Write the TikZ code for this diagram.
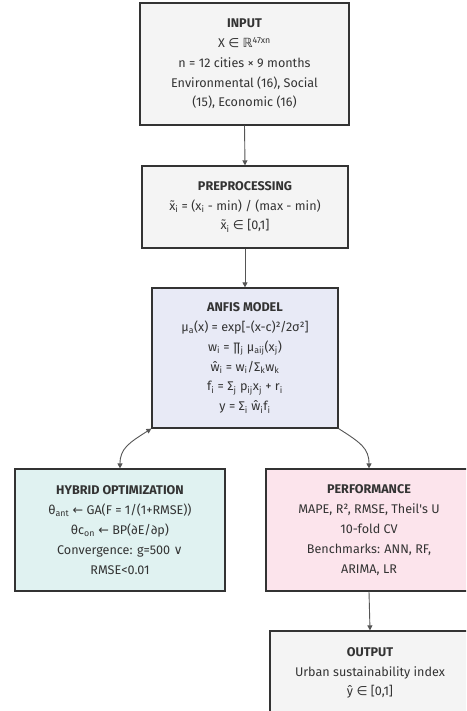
\documentclass[tikz,border=0pt]{standalone}
\usepackage{fontspec}
\setmainfont{Fira Sans}
\newfontfamily\sym{DejaVu Sans}
\usetikzlibrary{arrows.meta}
\definecolor{bordc}{HTML}{333333}
\definecolor{txtc}{HTML}{333333}
\definecolor{linec}{HTML}{555555}
\definecolor{grayf}{HTML}{F4F4F4}
\definecolor{anfisf}{HTML}{E8EAF6}
\definecolor{hybf}{HTML}{E0F2F1}
\definecolor{perff}{HTML}{FCE4EC}
\newcommand{\sbs}[1]{\textsubscript{#1}}
\begin{document}
\begin{tikzpicture}[x=1pt,y=-1pt,
  boxst/.style={draw=bordc, line width=1.2pt, rectangle, align=center, text=txtc,
    inner sep=0pt, font=\fontsize{12.6}{19.8}\selectfont},
  conn/.style={draw=linec, line width=0.9pt, -{Triangle[length=5pt,width=5pt]}},
  conn2/.style={draw=linec, line width=0.9pt, {Triangle[length=5pt,width=5pt]}-{Triangle[length=5pt,width=5pt]}}
]
\useasboundingbox (0,0) rectangle (466,711);
\clip (0,0) rectangle (466,711);
\fill[white] (0,0) rectangle (466,711);

\node[boxst, fill=grayf, minimum width=209pt, minimum height=122pt] (input) at (244.5,64)
 {\textbf{INPUT}\\
  X {\sym ∈} {\sym ℝ}\textsuperscript{47xn}\\
  n = 12 cities × 9 months\\
  Environmental (16), Social\\
  (15), Economic (16)};

\node[boxst, fill=grayf, minimum width=206pt, minimum height=82pt] (prep) at (245,207)
 {\textbf{PREPROCESSING}\\
  x̃\sbs{i} = (x\sbs{i} - min) / (max - min)\\
  x̃\sbs{i} {\sym ∈} [0,1]};

\node[boxst, fill=anfisf, minimum width=186pt, minimum height=140pt] (anfis) at (245,358)
 {\textbf{ANFIS MODEL}\\
  μ\sbs{a}(x) = exp[-(x-c)²/2σ²]\\
  w\sbs{i} = ∏\sbs{j} μ\sbs{aij}(x\sbs{j})\\
  ŵ\sbs{i} = w\sbs{i}/Σ\sbs{k}w\sbs{k}\\
  f\sbs{i} = Σ\sbs{j} p\sbs{ij}x\sbs{j} + r\sbs{i}\\
  y = Σ\sbs{i} ŵ\sbs{i}f\sbs{i}};

\node[boxst, fill=hybf, minimum width=210pt, minimum height=122pt] (hyb) at (120,530)
 {\textbf{HYBRID OPTIMIZATION}\\
  θ\sbs{ant} {\sym ←} GA(F = 1/(1+RMSE))\\
  θc\sbs{on} {\sym ←} BP(∂E/∂p)\\
  Convergence: g=500 {\sym ∨}\\
  RMSE<0.01};

\node[boxst, fill=perff, minimum width=206pt, minimum height=122pt] (perf) at (369,530)
 {\textbf{PERFORMANCE}\\
  MAPE, R², RMSE, Theil\textquotesingle s U\\
  10-fold CV\\
  Benchmarks: ANN, RF,\\
  ARIMA, LR};

\node[boxst, fill=grayf, minimum width=200pt, minimum height=84pt] (out) at (370,673)
 {\textbf{OUTPUT}\\
  Urban sustainability index\\
  ŷ {\sym ∈} [0,1]};

\draw[conn] (input.south) -- (prep.north);
\draw[conn] (prep.south) -- (anfis.north);
\draw[conn2] (anfis.south west) .. controls +(-22,14) and +(0,-20) .. (hyb.north);
\draw[conn] (anfis.south east) .. controls +(22,14) and +(0,-20) .. (perf.north);
\draw[conn] (perf.south) -- (out.north);
\end{tikzpicture}
\end{document}
